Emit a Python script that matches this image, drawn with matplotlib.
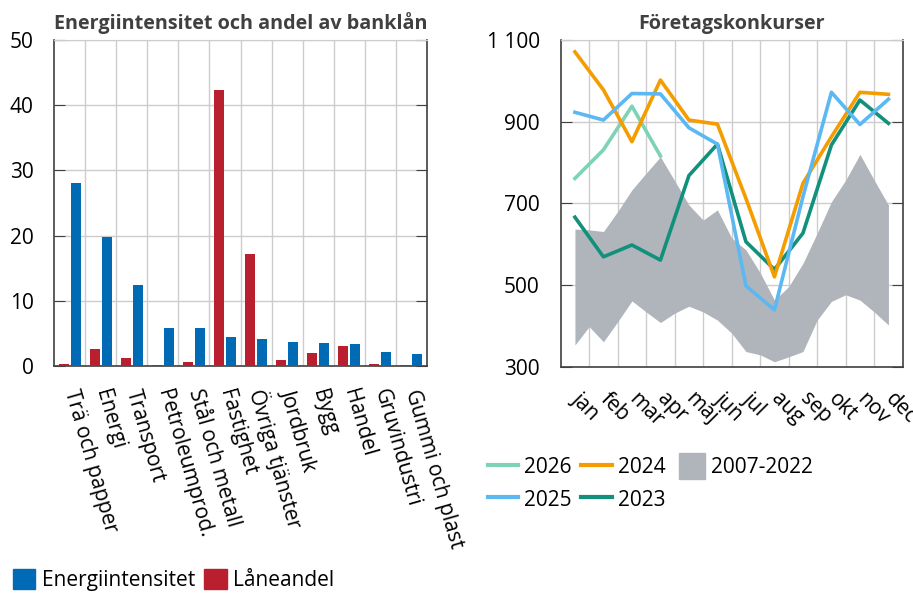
import numpy as np
import matplotlib
matplotlib.use("Agg")
import matplotlib.pyplot as plt
from matplotlib.patches import Patch, Rectangle
from matplotlib.lines import Line2D
from matplotlib.legend_handler import HandlerPatch

plt.rcParams['font.family'] = ['Open Sans', 'DejaVu Sans']

# --- left panel data ---
branscher = ["Trä och papper", "Energi", "Transport", "Petroleumprod.", "Stål och metall",
             "Fastighet", "Övriga tjänster", "Jordbruk", "Bygg", "Handel",
             "Gruvindustri", "Gummi och plast"]
energiintensitet = [28.0, 19.8, 12.4, 5.8, 5.8, 4.4, 4.2, 3.7, 3.5, 3.4, 2.2, 1.8]
laneandel = [0.3, 2.6, 1.2, 0.15, 0.6, 42.3, 17.2, 0.9, 2.0, 3.1, 0.35, 0.15]

# --- right panel data ---
manader = ["jan", "feb", "mar", "apr", "maj", "jun", "jul", "aug", "sep", "okt", "nov", "dec"]
y2026 = [761, 831, 938, 816]
y2025 = [923, 904, 969, 968, 885, 845, 498, 439, 716, 972, 893, 955]
y2024 = [1071, 978, 851, 1002, 904, 894, 712, 520, 749, 863, 972, 967]
y2023 = [666, 569, 598, 561, 768, 845, 606, 538, 627, 843, 953, 896]
# 2007-2022 range, read at half-month steps
band_pos = np.arange(0, 11.5, 0.5)
band_hi = [637, 635, 631, 680, 733, 774, 814, 755, 696, 659, 684, 615, 586, 530,
           463, 496, 553, 627, 704, 757, 820, 757, 696]
band_lo = [353, 398, 361, 410, 461, 434, 408, 431, 448, 434, 414, 382, 337, 329,
           312, 324, 337, 414, 460, 476, 463, 434, 402]

blue = "#006AB4"
red = "#BA1F2F"
grid_c = "#CCCCCC"
spine_c = "#404040"
title_c = "#404040"
fs = 15
tfs = 14.2


# square legend marker for the band, flush right against its label
def square_patch(legend, orig_handle, xdescent, ydescent, width, height, fontsize):
    side = height * 1.3
    return Rectangle((-xdescent + width - side, -ydescent + (height - side) / 2), side, side)


fig = plt.figure(figsize=(9.13, 5.93), dpi=100)
ax1 = fig.add_axes([0.0595, 0.3828, 0.4079, 0.5497])
ax2 = fig.add_axes([0.6141, 0.3817, 0.3746, 0.5508])

# left: bars
x = np.arange(len(branscher))
ax1.bar(x - 0.2, laneandel, width=0.32, color=red, zorder=3)
ax1.bar(x + 0.2, energiintensitet, width=0.32, color=blue, zorder=3)
ax1.set_xlim(-0.5, len(branscher) - 0.5)
ax1.set_ylim(0, 50)
ax1.set_yticks(range(0, 51, 10))
ax1.set_xticks(x)
ax1.set_xticklabels(branscher, rotation=-74, ha='left', va='center', rotation_mode='anchor')
ax1.set_xticks(np.arange(0.5, len(branscher) - 0.5, 1), minor=True)
ax1.grid(True, which='minor', axis='x', color=grid_c, lw=1, zorder=0)
ax1.grid(True, which='major', axis='y', color=grid_c, lw=1, zorder=0)
ax1.tick_params(axis='x', which='both', length=0, pad=17, labelsize=fs)
ax1.tick_params(axis='y', direction='in', length=8, right=True, pad=15, labelsize=fs,
                color=spine_c)
ax1.set_title("Energiintensitet och andel av banklån", fontsize=tfs, fontweight='bold',
              color=title_c, pad=8)

# right: lines and band
xm = np.arange(len(manader))
ax2.fill_between(band_pos, band_lo, band_hi, color="#B0B5BC", lw=0, zorder=2)
ax2.plot(xm[:len(y2026)], y2026, color="#7FD3B5", lw=2.6, zorder=4)
ax2.plot(xm, y2024, color="#F59C00", lw=2.6, zorder=4)
ax2.plot(xm, y2025, color="#5CB8F2", lw=2.6, zorder=5)
ax2.plot(xm, y2023, color="#11917B", lw=2.6, zorder=3)
ax2.set_xlim(-0.5, 11.5)
ax2.set_ylim(300, 1100)
ax2.set_yticks(range(300, 1101, 200))
ax2.set_yticklabels(["300", "500", "700", "900", "1 100"])
ax2.set_xticks(xm)
ax2.set_xticklabels(manader, rotation=-45, ha='left', va='center', rotation_mode='anchor')
ax2.set_xticks(np.arange(0.5, 11.5, 1), minor=True)
ax2.grid(True, which='minor', axis='x', color=grid_c, lw=1, zorder=0)
ax2.grid(True, which='major', axis='y', color=grid_c, lw=1, zorder=0)
ax2.tick_params(axis='x', which='both', length=0, pad=21, labelsize=fs)
ax2.tick_params(axis='y', direction='in', length=8, right=True, pad=15, labelsize=fs,
                color=spine_c)
ax2.set_title("Företagskonkurser", fontsize=tfs, fontweight='bold', color=title_c, pad=8)

for ax in (ax1, ax2):
    for s in ('left', 'right', 'bottom'):
        ax.spines[s].set_color(spine_c)
        ax.spines[s].set_linewidth(1.2)
    ax.spines['top'].set_color(grid_c)

# legends
h1 = [Patch(color=blue), Patch(color=red)]
fig.legend(h1, ["Energiintensitet", "Låneandel"], loc='lower left', bbox_to_anchor=(0.0, -0.018),
           ncol=2, frameon=False, fontsize=fs, handlelength=1.1, handleheight=1.1,
           handletextpad=0.3, columnspacing=0.45, borderaxespad=0.2)

band_handle = Patch(color="#B0B5BC")
h2 = [Line2D([], [], color="#7FD3B5", lw=3), Line2D([], [], color="#5CB8F2", lw=3),
      Line2D([], [], color="#F59C00", lw=3), Line2D([], [], color="#11917B", lw=3),
      band_handle]
fig.legend(h2, ["2026", "2025", "2024", "2023", "2007-2022"], loc='upper left',
           bbox_to_anchor=(0.514, 0.262), ncol=3, frameon=False, fontsize=fs,
           handlelength=1.45, handleheight=1.1, handletextpad=0.3, columnspacing=0.45,
           labelspacing=0.5,
           handler_map={band_handle: HandlerPatch(patch_func=square_patch)})

fig.savefig("out.png", dpi=100)
